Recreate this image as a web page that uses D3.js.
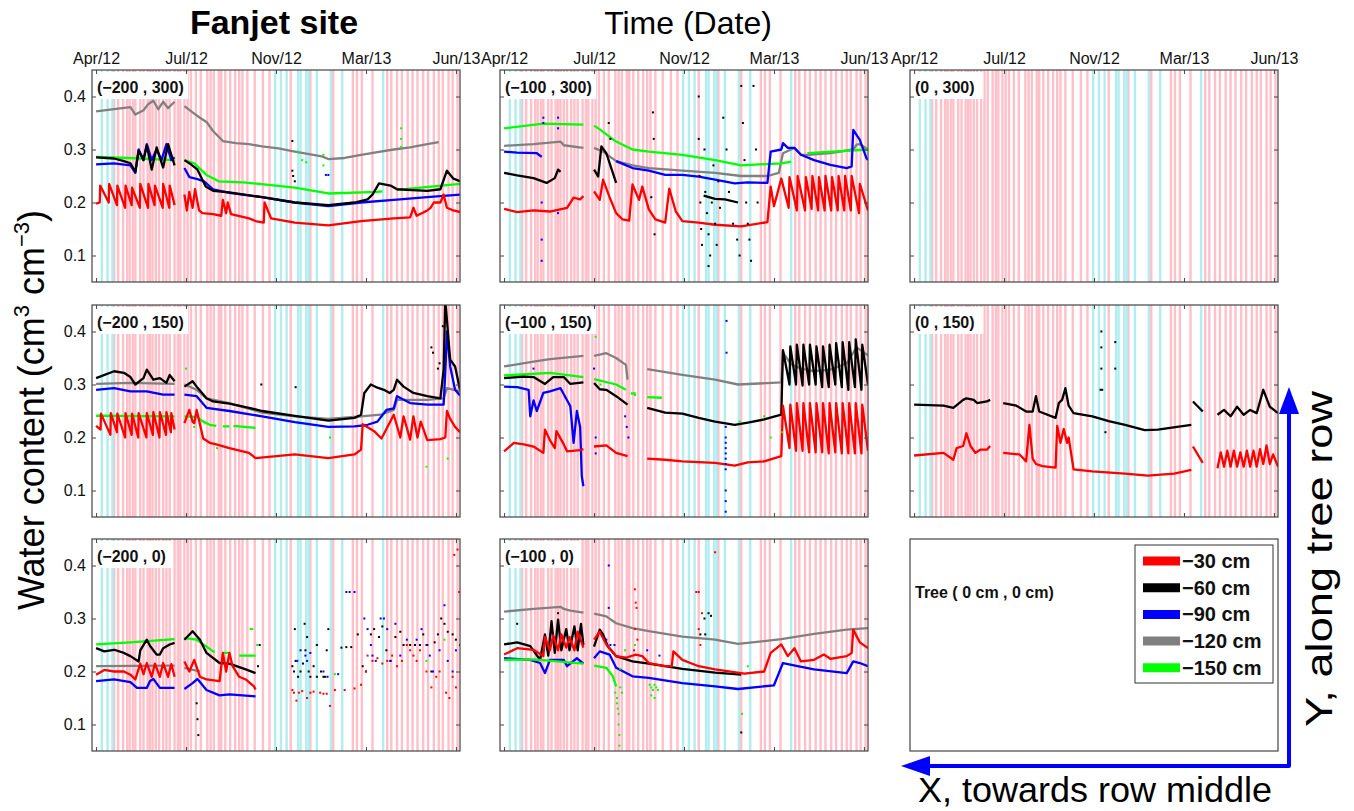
<!DOCTYPE html>
<html>
<head>
<meta charset="utf-8">
<script src="https://cdn.jsdelivr.net/npm/d3@7"></script>
<style>
body { margin: 0; background: #fff; }
text { font-family: "Liberation Sans", Arial, Helvetica, sans-serif; }
</style>
</head>
<body>
<script>
// days are counted from 5 Apr 2012, values are volumetric water content
var tickDays = [0, 110, 220, 330, 440];
var yTicks = [0.1, 0.2, 0.3, 0.4];
var depthLabels = ["\u221230 cm", "\u221260 cm", "\u221290 cm", "\u2212120 cm", "\u2212150 cm"];

// irrigation (pink) and rain (cyan) event days
var pinkDays = [22, 27, 33, 38, 41, 45, 48, 54, 58, 63, 66, 69, 73, 77, 82, 86, 90, 96, 100, 103, 108, 112, 116, 122, 128, 136, 140, 144, 150, 153, 158, 164, 170, 175, 179, 185, 194, 204, 212, 238, 262, 290, 314, 319, 325, 338, 356, 361, 368, 374, 381, 387, 393, 400, 406, 413, 419, 424, 431, 436, 442];
var cyanDays = [7, 14, 20, 219, 226, 233, 247, 250, 257, 260, 270, 287, 301, 351];

// (-200 , 300)
var p1_30 = [[0,0.198],[4.5,0.2],[5,0.232],[15.5,0.2],[16,0.235],[25.5,0.195],[26,0.232],[35.5,0.19],[36,0.232],[43.5,0.195],[44,0.228],[53.5,0.19],[54,0.235],[63.5,0.19],[64,0.235],[71.5,0.195],[72,0.232],[81.5,0.19],[82,0.235],[89.5,0.19],[90,0.232],[96,0.195],null,[108,0.215],[111,0.185],[114,0.22],[118,0.19],[121,0.225],[126,0.185],[130,0.18],[143,0.178],[153,0.175],[155,0.205],[159,0.18],[161,0.2],[165,0.178],[187,0.17],[195,0.165],[205,0.162],[206,0.2],[214,0.17],[243,0.162],[284,0.157],[324,0.165],[364,0.17],[384,0.172],[388,0.19],[392,0.175],[405,0.185],[409,0.19],[413,0.2],[421,0.2],[425,0.215],[429,0.19],[437,0.185],[445,0.182]];
var p1_60 = [[0,0.285],[22,0.283],[34,0.278],[42,0.274],[48,0.258],[52,0.298],[58,0.28],[62,0.308],[68,0.262],[74,0.304],[82,0.266],[88,0.31],[96,0.27],null,[108,0.28],[116,0.272],[124,0.262],[134,0.23],[143,0.222],[163,0.219],[203,0.21],[243,0.2],[284,0.195],[316,0.2],[332,0.206],[338,0.215],[346,0.236],[360,0.232],[368,0.225],[405,0.222],[421,0.225],[429,0.26],[437,0.245],[445,0.24]];
var p1_90 = [[0,0.272],[22,0.274],[42,0.27],[48,0.256],[52,0.3],[58,0.28],[62,0.31],[68,0.28],[74,0.3],[80,0.28],[86,0.31],[92,0.28],[96,0.285],null,[108,0.265],[114,0.248],[124,0.244],[132,0.24],[143,0.225],[163,0.218],[203,0.21],[243,0.2],[284,0.193],[324,0.2],[364,0.205],[405,0.21],[445,0.215]];
var p1_120 = [[0,0.372],[22,0.376],[42,0.38],[48,0.366],[58,0.374],[64,0.386],[70,0.392],[76,0.376],[82,0.39],[88,0.378],[96,0.39],null,[108,0.382],[118,0.37],[127,0.36],[135,0.352],[143,0.335],[155,0.316],[171,0.312],[187,0.31],[203,0.306],[223,0.302],[243,0.296],[276,0.287],[284,0.282],[304,0.284],[324,0.29],[344,0.295],[364,0.3],[384,0.304],[405,0.31],[419,0.314]];
var p1_150 = [[0,0.286],[40,0.284],[96,0.28],null,[108,0.28],[120,0.274],[135,0.252],[150,0.24],[180,0.238],[243,0.228],[284,0.217],[344,0.22],[350,0.221],null,[368,0.224],[445,0.235]];
var p1_dots60 = [[240,0.316],[240,0.26],[241,0.25],[243,0.24]];
var p1_dots150 = [[247,0.296],[252,0.28],[257,0.276],[278,0.29],[278,0.27],[373,0.34],[373,0.32],[373,0.305]];
var p1_dots90 = [[281,0.252],[284,0.252]];

// (-100 , 300)
var p2_30 = [[0,0.188],[16,0.182],[36,0.185],[56,0.183],[77,0.19],[85,0.209],[93,0.206],[97,0.212],null,[110,0.221],[117,0.205],[121,0.243],[129,0.21],[137,0.18],[145,0.168],[153,0.166],[157,0.234],[165,0.205],[169,0.23],[177,0.187],[185,0.168],[197,0.162],[202,0.226],[210,0.183],[218,0.165],[238,0.162],[258,0.158],[290,0.155],[322,0.163],[326,0.23],[330,0.193],[339,0.245],[348,0.19],[349,0.248],[358,0.185],[359,0.25],[368,0.185],[369,0.248],[376,0.188],[377,0.25],[384,0.185],[385,0.248],[392,0.185],[393,0.25],[400,0.185],[401,0.248],[408,0.185],[409,0.25],[416,0.185],[417,0.25],[424,0.185],[425,0.25],[434,0.18],[435,0.235],[445,0.185]];
var p2_60 = [[0,0.256],[16,0.251],[36,0.246],[52,0.237],[62,0.246],[66,0.262],[69,0.258],null,[110,0.262],[115,0.249],[119,0.306],[125,0.293],[137,0.237],null,[244,0.213],[258,0.207],[270,0.206],[286,0.2]];
var p2_90 = [[0,0.296],[16,0.294],[40,0.293],[46,0.286],null,[137,0.278],[157,0.265],[177,0.26],[197,0.252],[218,0.252],[238,0.249],[258,0.243],[282,0.236],[298,0.238],[322,0.237],[326,0.296],[339,0.3],[341,0.312],[347,0.303],[355,0.303],[363,0.29],[379,0.28],[399,0.271],[419,0.265],[425,0.268],[427,0.337],[435,0.318],[443,0.284],[445,0.28]];
var p2_120 = [[0,0.307],[36,0.31],[69,0.315],[73,0.308],[97,0.303],null,[110,0.303],[121,0.296],[137,0.278],[157,0.27],[177,0.265],[218,0.26],[258,0.256],[290,0.25],[322,0.25],[336,0.256],[341,0.293],[355,0.303],[363,0.29],[371,0.29],[399,0.293],[427,0.3],[431,0.309],[435,0.31],[445,0.3]];
var p2_150 = [[0,0.34],[48,0.349],[97,0.347],null,[110,0.345],[117,0.338],[137,0.315],[157,0.3],[177,0.296],[218,0.29],[258,0.28],[290,0.27],[339,0.274],[351,0.277],null,[371,0.293],[445,0.3]];
var p2_dots60 = [[238,0.4],[238,0.32],[239,0.25],[240,0.2],[241,0.15],[242,0.12],[245,0.3],[246,0.22],[248,0.18],[250,0.14],[250,0.08],[252,0.1],[254,0.2],[256,0.27],[258,0.16],[260,0.12],[262,0.24],[264,0.19],[268,0.36],[272,0.3],[275,0.22],[280,0.16],[285,0.13],[288,0.1],[290,0.42],[292,0.35],[294,0.28],[296,0.2],[298,0.16],[300,0.13],[302,0.09],[305,0.42],[308,0.3],[310,0.2],[182,0.37],[183,0.32],[180,0.21],[184,0.14],[128,0.35],[130,0.32]];
var p2_dots90 = [[48,0.36],[48,0.35],[66,0.36],[66,0.34],[46,0.2],[46,0.13],[46,0.09],[66,0.18]];

// (-200 , 150)
var p4_30 = [[0,0.222],[5.5,0.215],[6,0.245],[17.5,0.205],[18,0.246],[25.5,0.21],[26,0.245],[35.5,0.2],[36,0.246],[43.5,0.205],[44,0.245],[51.5,0.2],[52,0.246],[61.5,0.2],[62,0.246],[69.5,0.205],[70,0.248],[77.5,0.2],[78,0.248],[85.5,0.205],[86,0.248],[91.5,0.21],[92,0.246],[96,0.215],null,[108,0.227],[114,0.252],[118,0.23],[120,0.227],[123,0.252],[131,0.198],[139,0.19],[147,0.187],[163,0.18],[187,0.171],[195,0.161],[243,0.168],[284,0.161],[316,0.168],[324,0.177],[326,0.225],[340,0.212],[349,0.198],[364,0.243],[372,0.2],[376,0.24],[384,0.196],[388,0.24],[393,0.2],[397,0.23],[405,0.195],[421,0.197],[427,0.2],[429,0.25],[433,0.235],[439,0.22],[445,0.21]];
var p4_60 = [[0,0.312],[22,0.325],[34,0.322],[42,0.314],[48,0.3],[58,0.312],[62,0.328],[70,0.309],[78,0.312],[86,0.303],[90,0.318],[96,0.306],null,[108,0.296],[118,0.306],[123,0.296],[135,0.274],[143,0.268],[163,0.264],[187,0.256],[203,0.25],[243,0.241],[284,0.232],[316,0.237],[324,0.243],[328,0.284],[336,0.3],[344,0.294],[352,0.29],[359,0.284],[364,0.29],[368,0.309],[376,0.296],[388,0.284],[405,0.278],[421,0.274],[425,0.328],[427,0.46],[431,0.384],[433,0.347],[439,0.334],[445,0.29]];
var p4_90 = [[0,0.29],[22,0.293],[42,0.287],[62,0.287],[82,0.281],[96,0.281],null,[108,0.281],[123,0.278],[135,0.256],[163,0.25],[203,0.24],[243,0.229],[284,0.22],[316,0.221],[332,0.224],[344,0.23],[355,0.252],[364,0.255],[368,0.278],[384,0.265],[405,0.262],[425,0.262],[427,0.322],[429,0.4],[433,0.334],[439,0.29],[445,0.279]];
var p4_120 = [[0,0.301],[42,0.303],[96,0.301],null,[108,0.3],[123,0.29],[135,0.274],[163,0.265],[203,0.247],[243,0.24],[284,0.235],[324,0.24],[348,0.243],[364,0.252],[368,0.271],[405,0.271],[425,0.274],[429,0.293],[445,0.287]];
var p4_150 = [[0,0.241],[96,0.24],null,[108,0.24],[123,0.239],[131,0.23],[139,0.224],[147,0.222],null,[155,0.221],[163,0.221],null,[168,0.222],[195,0.218]];
var p4_dots60 = [[410,0.37],[412,0.36],[424,0.41],[418,0.33],[420,0.34],[202,0.3],[244,0.295]];
var p4_dots150 = [[110,0.33],[120,0.22],[148,0.18],[286,0.2],[404,0.145],[430,0.16]];

// (-100 , 150)
var p5_30 = [[0,0.174],[12,0.19],[24,0.187],[36,0.183],[48,0.171],[50,0.215],[56,0.195],[62,0.18],[64,0.212],[73,0.187],[77,0.174],[93,0.176],[97,0.178],null,[110,0.183],[125,0.185],[137,0.171],[151,0.165],null,[175,0.16],[197,0.158],[218,0.155],[258,0.152],[282,0.147],[298,0.153],[318,0.155],[339,0.165],[341,0.26],[349,0.18],[350,0.262],[357,0.175],[358,0.265],[365,0.175],[366,0.265],[373,0.172],[374,0.265],[381,0.172],[382,0.265],[389,0.172],[390,0.265],[397,0.17],[398,0.265],[405,0.172],[406,0.265],[413,0.17],[414,0.265],[421,0.17],[422,0.265],[429,0.17],[430,0.265],[437,0.17],[438,0.262],[445,0.175]];
var p5_60 = [[0,0.312],[24,0.315],[36,0.314],[50,0.301],[60,0.314],[73,0.314],[81,0.301],[97,0.304],null,[110,0.303],[117,0.291],[125,0.29],[137,0.278],[151,0.262],null,[175,0.256],[197,0.247],[218,0.245],[238,0.237],[258,0.23],[282,0.224],[298,0.228],[318,0.234],[339,0.243],[341,0.365],[349,0.3],[350,0.372],[357,0.3],[358,0.375],[365,0.298],[366,0.375],[373,0.3],[374,0.375],[381,0.3],[382,0.372],[389,0.295],[390,0.372],[397,0.295],[398,0.375],[405,0.3],[406,0.378],[413,0.295],[414,0.38],[421,0.29],[422,0.38],[429,0.295],[430,0.385],[437,0.29],[438,0.375],[445,0.3]];
var p5_90 = [[0,0.296],[16,0.295],[30,0.29],[32,0.24],[36,0.27],[40,0.25],[48,0.284],[56,0.287],[69,0.293],[81,0.259],[85,0.19],[89,0.25],[93,0.22],[95,0.127],[97,0.108]];
var p5_120 = [[0,0.334],[36,0.343],[56,0.348],[97,0.354],null,[110,0.354],[125,0.359],[137,0.35],[149,0.337],[151,0.309],null,[175,0.329],[218,0.318],[258,0.309],[286,0.3],[339,0.304],[341,0.36],[351,0.338],[363,0.33],[379,0.325],[399,0.328],[419,0.34],[431,0.37],[445,0.355]];
var p5_150 = [[0,0.317],[56,0.322],[97,0.314],null,[110,0.31],[137,0.3],[149,0.29],null,[155,0.283],[161,0.283],null,[175,0.276],[193,0.275]];
var p5_dots90 = [[271,0.22],[271,0.2],[271,0.19],[271,0.18],[271,0.17],[271,0.16],[271,0.15],[271,0.14],[271,0.1],[271,0.08],[271,0.06],[272,0.36],[272,0.42],[110,0.33],[112,0.2],[112,0.17],[148,0.24],[150,0.22],[152,0.2],[36,0.33]];
var p5_dots150 = [[110,0.43],[112,0.39],[118,0.3],[160,0.28],[288,0.23],[318,0.24],[340,0.21],[326,0.2]];

// (0 , 150)
var p6_30 = [[0,0.166],[36,0.171],[48,0.158],[52,0.18],[60,0.184],[64,0.208],[69,0.184],[75,0.171],[81,0.177],[89,0.177],[93,0.184],null,[109,0.171],[129,0.168],[137,0.155],[141,0.224],[145,0.16],[149,0.15],[157,0.146],[173,0.143],[175,0.222],[179,0.19],[183,0.216],[187,0.19],[189,0.2],[195,0.14],[218,0.136],[258,0.132],[286,0.128],[318,0.132],[339,0.139],null,[341,0.183],[353,0.152],null,[371,0.142],[375,0.172],[379,0.145],[383,0.175],[387,0.145],[391,0.175],[395,0.145],[399,0.172],[403,0.145],[407,0.175],[411,0.145],[415,0.175],[419,0.145],[423,0.178],[427,0.15],[431,0.185],[435,0.15],[439,0.168],[445,0.145]];
var p6_60 = [[0,0.262],[36,0.26],[48,0.256],[60,0.271],[64,0.274],[73,0.271],[77,0.265],[89,0.268],[93,0.271],null,[109,0.265],[125,0.26],[137,0.249],[145,0.249],[149,0.278],[153,0.249],[173,0.237],[177,0.265],[181,0.271],[185,0.293],[189,0.26],[195,0.246],[218,0.24],[238,0.231],[258,0.224],[282,0.214],[298,0.215],[339,0.224],null,[341,0.268],[353,0.249],null,[371,0.243],[379,0.252],[387,0.24],[395,0.258],[403,0.243],[411,0.252],[419,0.246],[427,0.29],[435,0.258],[445,0.246]];
var p6_dots60 = [[229,0.4],[229,0.37],[229,0.33],[228,0.29],[230,0.29],[246,0.38],[246,0.33],[234,0.21]];

// (-200 , 0)
var p7_30 = [[0,0.194],[10,0.203],[22,0.2],[34,0.2],[42,0.194],[48,0.185],[54,0.215],[58,0.195],[62,0.216],[68,0.19],[72,0.215],[78,0.19],[82,0.216],[88,0.19],[92,0.214],[96,0.19],null,[108,0.219],[114,0.2],[120,0.222],[127,0.19],[135,0.185],[151,0.182],[155,0.235],[159,0.2],[163,0.235],[167,0.21],[175,0.19],[183,0.185],[193,0.172],[195,0.166]];
var p7_60 = [[0,0.244],[10,0.238],[22,0.241],[34,0.235],[42,0.229],[52,0.219],[54,0.24],[62,0.26],[66,0.248],[74,0.232],[78,0.232],[82,0.244],[90,0.251],[96,0.254],null,[108,0.26],[118,0.276],[127,0.26],[135,0.235],[151,0.216],[163,0.215],[183,0.204],[195,0.197]];
var p7_90 = [[0,0.182],[22,0.185],[42,0.18],[50,0.169],[62,0.169],[66,0.182],[70,0.186],[78,0.169],[96,0.169],null,[108,0.167],[118,0.178],[124,0.186],[135,0.165],[151,0.155],[163,0.157],[195,0.153]];
var p7_120 = [[0,0.21],[96,0.211],null,[108,0.207],[127,0.2]];
var p7_150 = [[0,0.251],[42,0.255],[96,0.261],null,[108,0.263],[123,0.26],[135,0.247],[145,0.236],null,[155,0.235],[163,0.235],null,[175,0.23],[195,0.23]];
var p7_dots60 = [[240,0.21],[242,0.2],[244,0.22],[247,0.19],[250,0.2],[253,0.215],[256,0.24],[258,0.265],[260,0.2],[262,0.19],[266,0.21],[270,0.19],[275,0.2],[278,0.19],[280,0.19],[282,0.24],[284,0.28],[243,0.28],[255,0.29],[270,0.25],[300,0.245],[306,0.246],[312,0.246],[320,0.27],[326,0.21],[330,0.2],[336,0.27],[340,0.28],[346,0.265],[350,0.285],[355,0.24],[360,0.22],[366,0.265],[372,0.275],[376,0.25],[384,0.25],[390,0.25],[396,0.25],[400,0.27],[405,0.25],[410,0.2],[414,0.255],[418,0.27],[422,0.3],[426,0.29],[430,0.275],[436,0.27],[440,0.26],[445,0.25],[198,0.21],[200,0.25],[123,0.14],[124,0.11],[125,0.08]];
var p7_dots30 = [[240,0.165],[242,0.16],[245,0.145],[248,0.16],[252,0.163],[258,0.15],[262,0.16],[266,0.162],[274,0.16],[278,0.158],[282,0.158],[286,0.135],[292,0.165],[304,0.165],[316,0.168],[324,0.175],[330,0.2],[332,0.23],[338,0.22],[344,0.225],[350,0.215],[356,0.22],[362,0.23],[368,0.21],[374,0.22],[380,0.25],[384,0.24],[388,0.23],[392,0.22],[396,0.24],[404,0.2],[410,0.17],[416,0.19],[420,0.2],[428,0.16],[432,0.15],[436,0.19],[440,0.17],[442,0.43],[438,0.42],[444,0.35]];
var p7_dots90 = [[246,0.22],[250,0.24],[256,0.23],[258,0.22],[262,0.235],[278,0.2],[283,0.19],[296,0.195],[328,0.3],[332,0.28],[336,0.25],[338,0.23],[342,0.22],[348,0.3],[352,0.3],[356,0.28],[360,0.22],[366,0.29],[372,0.23],[380,0.26],[392,0.26],[398,0.28],[404,0.25],[408,0.23],[412,0.2],[420,0.24],[426,0.325],[430,0.22],[436,0.2],[440,0.24],[306,0.35],[310,0.35],[316,0.35]];
var p7_dots150 = [[189,0.28],[191,0.28],[197,0.25],[292,0.195],[404,0.22],[426,0.26]];

// (-100 , 0)
var p8_30 = [[0,0.232],[16,0.244],[36,0.241],[48,0.229],[50,0.265],[56,0.24],[60,0.268],[66,0.24],[70,0.27],[76,0.245],[80,0.265],[86,0.24],[90,0.275],[97,0.245],null,[110,0.26],[117,0.275],[125,0.251],[137,0.229],[149,0.226],[161,0.232],[169,0.229],[177,0.216],[197,0.21],[205,0.21],[207,0.238],[218,0.222],[238,0.21],[258,0.204],[294,0.196],[318,0.2],[326,0.235],[339,0.251],[347,0.229],[355,0.244],[363,0.219],[379,0.222],[391,0.232],[399,0.224],[419,0.229],[425,0.235],[427,0.279],[435,0.255],[445,0.244]];
var p8_60 = [[0,0.251],[16,0.255],[32,0.248],[44,0.222],[50,0.27],[54,0.23],[58,0.295],[62,0.235],[66,0.298],[70,0.24],[76,0.28],[80,0.24],[86,0.285],[90,0.24],[94,0.29],[97,0.25],null,[110,0.247],[117,0.279],[121,0.27],[127,0.247],[137,0.229],[157,0.219],[177,0.215],[218,0.205],[258,0.198],[290,0.194]];
var p8_90 = [[0,0.225],[32,0.222],[44,0.216],[50,0.197],[56,0.222],[73,0.222],[77,0.21],[89,0.225],[97,0.215],null,[110,0.225],[117,0.238],[129,0.232],[137,0.207],[157,0.191],[177,0.188],[218,0.178],[258,0.172],[286,0.167],[330,0.174],[341,0.216],[359,0.21],[379,0.204],[419,0.197],[427,0.219],[435,0.216],[445,0.21]];
var p8_120 = [[0,0.313],[36,0.318],[69,0.322],[73,0.318],[81,0.315],[97,0.311],null,[110,0.309],[125,0.304],[137,0.291],[157,0.282],[177,0.276],[218,0.266],[258,0.26],[286,0.252],[339,0.261],[379,0.271],[419,0.279],[445,0.282]];
var p8_150 = [[0,0.222],[36,0.223],[97,0.215],null,[110,0.211],[125,0.207],[133,0.191],[137,0.172]];
var p8_dots150 = [[136,0.16],[138,0.15],[138,0.14],[139,0.13],[140,0.12],[140,0.1],[141,0.08],[141,0.06],[142,0.17],[144,0.16],[178,0.175],[180,0.17],[182,0.165],[184,0.175],[186,0.17],[188,0.165],[180,0.155],[184,0.15],[142,0.205],[148,0.24],[160,0.25],[291,0.12],[298,0.21]];
var p8_dots30 = [[160,0.355],[161,0.33],[162,0.32],[160,0.28],[163,0.26],[159,0.24],[235,0.35],[238,0.35],[242,0.31],[238,0.28],[258,0.425],[240,0.25]];
var p8_dots90 = [[128,0.4],[128,0.32],[125,0.26],[130,0.25],[135,0.25],[175,0.24],[190,0.23]];
var p8_dots60 = [[66,0.31],[16,0.29],[245,0.3],[250,0.31],[253,0.305],[240,0.27],[246,0.27],[290,0.085]];

var depthColors = ["#ff0000", "#000000", "#0000ff", "#808080", "#00ff00"];

var panels = [
  {label: "(\u2212200 , 300)", col: 0, row: 0, lines: [p1_120, p1_150, p1_90, p1_60, p1_30], dots: [[p1_dots60, 1], [p1_dots150, 4], [p1_dots90, 2]]},
  {label: "(\u2212100 , 300)", col: 1, row: 0, lines: [p2_120, p2_150, p2_90, p2_60, p2_30], dots: [[p2_dots60, 1], [p2_dots90, 2]]},
  {label: "(0 , 300)", col: 2, row: 0, lines: [], dots: []},
  {label: "(\u2212200 , 150)", col: 0, row: 1, lines: [p4_150, p4_120, p4_90, p4_60, p4_30], dots: [[p4_dots60, 1], [p4_dots150, 4]]},
  {label: "(\u2212100 , 150)", col: 1, row: 1, lines: [p5_150, p5_120, p5_90, p5_60, p5_30], dots: [[p5_dots90, 2], [p5_dots150, 4]]},
  {label: "(0 , 150)", col: 2, row: 1, lines: [p6_60, p6_30], dots: [[p6_dots60, 1]]},
  {label: "(\u2212200 , 0)", col: 0, row: 2, lines: [p7_150, p7_120, p7_90, p7_60, p7_30], dots: [[p7_dots60, 1], [p7_dots30, 0], [p7_dots90, 2], [p7_dots150, 4]]},
  {label: "(\u2212100 , 0)", col: 1, row: 2, lines: [p8_120, p8_90, p8_60, p8_30, p8_150], dots: [[p8_dots150, 4], [p8_dots30, 0], [p8_dots90, 2], [p8_dots60, 1]]}
];
// colour index of each line, same order as "lines" above
var lineColors = [[3, 4, 2, 1, 0], [3, 4, 2, 1, 0], [], [4, 3, 2, 1, 0], [4, 3, 2, 1, 0], [1, 0], [4, 3, 2, 1, 0], [3, 2, 1, 0, 4]];

var colLeft = [92, 500, 910], rowTop = [70, 305, 539];
var W = 368, H = 212;
var start = new Date(2012, 3, 5);
function toDate(d) { return new Date(start.getTime() + d * 864e5); }

var svg = d3.select("body").append("svg").attr("width", 1354).attr("height", 811);

svg.append("defs").append("clipPath").attr("id", "clip")
  .append("rect").attr("width", W).attr("height", H);

var x = d3.scaleTime().domain([toDate(-5), toDate(445)]).range([0, W]);
var y = d3.scaleLinear().domain([0.05, 0.45]).range([H, 0]);
var fmt = d3.timeFormat("%b/%y");

var line = d3.line()
  .defined(function(d) { return d !== null; })
  .x(function(d) { return x(toDate(d[0])); })
  .y(function(d) { return y(d[1]); });

function styleAxis(g) {
  g.select(".domain").remove();
  g.selectAll(".tick line").attr("stroke", "#444");
  g.selectAll("text").attr("fill", "#111").attr("font-size", 16)
    .attr("font-family", "Liberation Sans, Arial, sans-serif");
}

panels.forEach(function(p, i) {
  var g = svg.append("g").attr("transform", "translate(" + colLeft[p.col] + "," + rowTop[p.row] + ")");
  var inner = g.append("g").attr("clip-path", "url(#clip)");

  inner.selectAll(".pink").data(pinkDays).enter().append("line")
    .attr("x1", function(d) { return x(toDate(d)); })
    .attr("x2", function(d) { return x(toDate(d)); })
    .attr("y1", 0).attr("y2", H)
    .attr("stroke", "#ffc0c9").attr("stroke-width", 2.4);
  inner.selectAll(".cyan").data(cyanDays).enter().append("line")
    .attr("x1", function(d) { return x(toDate(d)); })
    .attr("x2", function(d) { return x(toDate(d)); })
    .attr("y1", 0).attr("y2", H)
    .attr("stroke", "#b2edf0").attr("stroke-width", 2.4);

  // white box under the position label
  g.append("rect").attr("x", 1).attr("y", 2).attr("width", p.label.length * 7.6 + 4).attr("height", 27).attr("fill", "#fff");

  p.lines.forEach(function(s, j) {
    inner.append("path").datum(s)
      .attr("fill", "none")
      .attr("stroke", depthColors[lineColors[i][j]])
      .attr("stroke-width", 2.3)
      .attr("stroke-linejoin", "round")
      .attr("d", line);
  });
  p.dots.forEach(function(dd) {
    inner.selectAll(null).data(dd[0]).enter().append("rect")
      .attr("x", function(d) { return x(toDate(d[0])) - 1; })
      .attr("y", function(d) { return y(d[1]) - 1; })
      .attr("width", 2).attr("height", 2)
      .attr("fill", depthColors[dd[1]]);
  });

  var tv = tickDays.map(toDate);
  g.append("g").call(d3.axisTop(x).tickValues(tv).tickSize(-4).tickPadding(6)
      .tickFormat(p.row === 0 ? fmt : "")).call(styleAxis);
  g.append("g").attr("transform", "translate(0," + H + ")")
    .call(d3.axisBottom(x).tickValues(tv).tickSize(-4).tickFormat("")).call(styleAxis);
  g.append("g").call(d3.axisLeft(y).tickValues(yTicks).tickSize(-4).tickPadding(6)
      .tickFormat(p.col === 0 ? d3.format(".1f") : "")).call(styleAxis);
  g.append("g").attr("transform", "translate(" + W + ",0)")
    .call(d3.axisRight(y).tickValues(yTicks).tickSize(-4).tickFormat("")).call(styleAxis);

  g.append("rect").attr("width", W).attr("height", H)
    .attr("fill", "none").attr("stroke", "#444").attr("stroke-width", 1.2);

  g.append("text").attr("x", 5).attr("y", 23)
    .attr("font-size", 16).attr("font-weight", "bold").attr("fill", "#111")
    .text(p.label);
});

// tree panel with legend
var tg = svg.append("g").attr("transform", "translate(" + colLeft[2] + "," + rowTop[2] + ")");
tg.append("rect").attr("width", W).attr("height", H)
  .attr("fill", "#fff").attr("stroke", "#444").attr("stroke-width", 1.2);
tg.append("text").attr("x", 5).attr("y", 59).attr("font-size", 16).attr("font-weight", "bold")
  .attr("fill", "#111").text("Tree ( 0 cm , 0 cm)");

var lg = tg.append("g").attr("transform", "translate(225,6)");
lg.append("rect").attr("width", 138).attr("height", 138)
  .attr("fill", "#fff").attr("stroke", "#333").attr("stroke-width", 1);
var item = lg.selectAll(".item").data(depthLabels).enter().append("g")
  .attr("transform", function(d, i) { return "translate(0," + (16 + i * 26.7) + ")"; });
item.append("line").attr("x1", 8).attr("x2", 45).attr("y1", 0).attr("y2", 0)
  .attr("stroke", function(d, i) { return depthColors[i]; }).attr("stroke-width", 9);
item.append("text").attr("x", 47).attr("y", 7).attr("font-size", 20).attr("font-weight", "bold")
  .attr("fill", "#111").text(function(d) { return d; });

// titles
svg.append("text").attr("x", 274).attr("y", 34).attr("text-anchor", "middle")
  .attr("font-size", 34).attr("font-weight", "bold").text("Fanjet site");
svg.append("text").attr("x", 688).attr("y", 34).attr("text-anchor", "middle")
  .attr("font-size", 32).text("Time (Date)");

var yl = svg.append("text").attr("transform", "translate(44,410) rotate(-90)")
  .attr("text-anchor", "middle").attr("font-size", 36);
yl.append("tspan").text("Water content (cm");
yl.append("tspan").attr("font-size", 22).attr("dy", -15).text("3");
yl.append("tspan").attr("dy", 15).text(" cm");
yl.append("tspan").attr("font-size", 22).attr("dy", -15).text("\u22123");
yl.append("tspan").attr("dy", 15).text(")");

// direction arrows
svg.append("path").attr("d", "M1289,412 L1289,766 L926,766")
  .attr("fill", "none").attr("stroke", "#0000ff").attr("stroke-width", 4).attr("stroke-linejoin", "round");
svg.append("path").attr("d", "M1289,387 L1279,414 L1299,414 Z").attr("fill", "#0000ff");
svg.append("path").attr("d", "M901,766 L930,756 L930,776 Z").attr("fill", "#0000ff");

svg.append("text").attr("x", 918).attr("y", 802).attr("font-size", 35)
  .attr("textLength", 354).attr("lengthAdjust", "spacingAndGlyphs").text("X, towards row middle");
svg.append("text").attr("transform", "translate(1332,727) rotate(-90)")
  .attr("font-size", 36).attr("textLength", 336).attr("lengthAdjust", "spacingAndGlyphs")
  .text("Y, along tree row");
</script>
</body>
</html>
